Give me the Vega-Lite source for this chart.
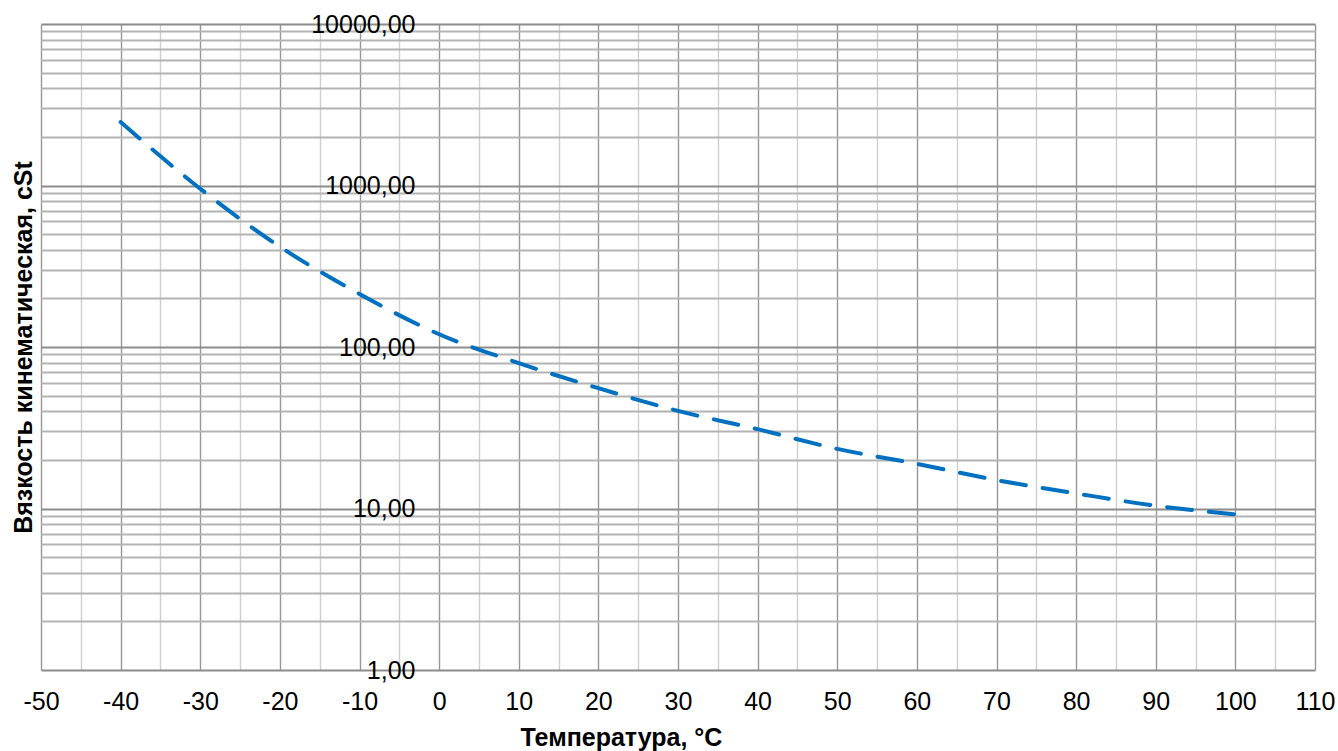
{
  "$schema": "https://vega.github.io/schema/vega-lite/v6.json",
  "autosize": "none",
  "width": 1274,
  "height": 646,
  "padding": {"left": 41, "top": 24, "right": 23, "bottom": 81},
  "background": "white",
  "config": {
    "view": {"stroke": null},
    "font": "Liberation Sans",
    "axis": {"labelFont": "Liberation Sans", "titleFont": "Liberation Sans", "labelColor": "#000", "titleColor": "#000"}
  },
  "data": {
    "values": [
      {"temp": -40, "visc": 2470},
      {"temp": -30, "visc": 955},
      {"temp": -20, "visc": 418},
      {"temp": -10, "visc": 213},
      {"temp": 0, "visc": 120},
      {"temp": 10, "visc": 79.5},
      {"temp": 20, "visc": 55.6},
      {"temp": 30, "visc": 40.2},
      {"temp": 40, "visc": 31},
      {"temp": 50, "visc": 23.4},
      {"temp": 60, "visc": 18.9},
      {"temp": 70, "visc": 15.0},
      {"temp": 80, "visc": 12.4},
      {"temp": 90, "visc": 10.4},
      {"temp": 100, "visc": 9.2}
    ]
  },
  "mark": {"type": "line", "color": "#0070C0", "strokeWidth": 4, "strokeDash": [25, 17], "strokeCap": "round", "interpolate": "monotone", "clip": true},
  "encoding": {
    "x": {
      "field": "temp",
      "type": "quantitative",
      "scale": {"domain": [-50, 110], "nice": false, "zero": false},
      "axis": {
        "title": "Температура, °C",
        "titleFontSize": 25,
        "titleFontWeight": "bold",
        "titleX": 580,
        "titleY": 75,
        "titleAnchor": null,
        "titleAlign": "center",
        "titleBaseline": "alphabetic",
        "values": [-50,-45,-40,-35,-30,-25,-20,-15,-10,-5,0,5,10,15,20,25,30,35,40,45,50,55,60,65,70,75,80,85,90,95,100,105,110],
        "labelExpr": "datum.value % 10 == 0 ? replace(format(datum.value, 'd'), '−', '-') : ''",
        "labelFontSize": 25,
        "labelPadding": 19,
        "labelFlush": false,
        "labelOverlap": false,
        "ticks": false,
        "domain": false,
        "grid": true,
        "gridColor": {"condition": {"test": "datum.value % 10 == 0", "value": "#979797"}, "value": "#cfcfcf"},
        "gridWidth": 1.4,
        "zindex": 0
      }
    },
    "y": {
      "field": "visc",
      "type": "quantitative",
      "scale": {"type": "log", "domain": [1, 10000], "nice": false},
      "axis": {
        "title": "Вязкость кинематическая, cSt",
        "titleFontSize": 25,
        "titleFontWeight": "bold",
        "titleAngle": -90,
        "titleX": -416,
        "titleY": 323,
        "titleAnchor": null,
        "titleAlign": "center",
        "titleBaseline": "middle",
        "offset": -398,
        "values": [1,2,3,4,5,6,7,8,9,10,20,30,40,50,60,70,80,90,100,200,300,400,500,600,700,800,900,1000,2000,3000,4000,5000,6000,7000,8000,9000,10000],
        "labelExpr": "indexof([1,10,100,1000,10000], datum.value) >= 0 ? replace(format(datum.value, '.2f'), '.', ',') : ''",
        "labelFontSize": 25,
        "labelPadding": 24,
        "labelFlush": false,
        "labelOverlap": false,
        "labelBaseline": "middle",
        "ticks": false,
        "domain": false,
        "grid": true,
        "gridColor": {"condition": {"test": "indexof([1,10,100,1000,10000], datum.value) >= 0", "value": "#8c8c8c"}, "value": "#b4b4b4"},
        "gridWidth": {"condition": {"test": "indexof([1,10,100,1000,10000], datum.value) >= 0", "value": 2.2}, "value": 1.8},
        "zindex": 0
      }
    }
  }
}
